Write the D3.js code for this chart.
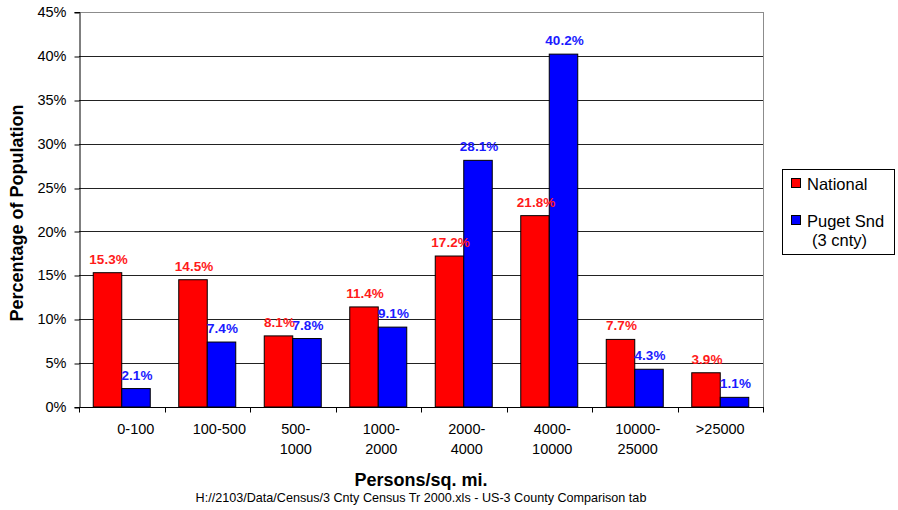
<!DOCTYPE html>
<html>
<head>
<meta charset="utf-8">
<script src="https://cdn.jsdelivr.net/npm/d3@7"></script>
<style>
  html, body { margin: 0; padding: 0; background: #fff; }
  svg { display: block; font-family: "Liberation Sans", Arial, sans-serif; }
</style>
</head>
<body>
<svg id="chart" width="898" height="510"></svg>
<script>
// Population density classes (persons per square mile); "|" marks a line break
const categories = ["\u00a0\u00a0\u00a0\u00a0\u00a0\u00a0\u00a00-100", "\u00a0\u00a0\u00a0\u00a0\u00a0\u00a0100-500", "500-|1000", "1000-|2000", "2000-|4000", "4000-|10000", "10000-|25000", ">25000"];
// Share of population in each class, percent
const nationalValues = [15.3, 14.5, 8.1, 11.4, 17.2, 21.8, 7.7, 3.9];
const pugetValues = [2.1, 7.4, 7.8, 9.1, 28.1, 40.2, 4.3, 1.1];
const seriesNames = ["National", "Puget Snd|(3 cnty)"];
const yTicks = [0, 5, 10, 15, 20, 25, 30, 35, 40, 45];

const seriesValues = [nationalValues, pugetValues];
const colors = ["#ff0000", "#0000ff"];
const labelColors = ["#ff1a1a", "#1a1aff"];

const svg = d3.select("#chart");
const plot = { left: 79, right: 763, top: 12, bottom: 407 };

const x0 = d3.scaleBand()
  .domain(categories)
  .range([plot.left, plot.right])
  .padding(0);

const x1 = d3.scaleBand()
  .domain([0, 1])
  .range([x0.bandwidth() / 6, x0.bandwidth() * 5 / 6])
  .padding(0);

const y = d3.scaleLinear()
  .domain([0, 45])
  .range([plot.bottom, plot.top]);

// Horizontal gridlines
svg.append("g")
  .selectAll("line")
  .data(yTicks.filter(t => t > 0))
  .join("line")
  .attr("x1", plot.left)
  .attr("x2", plot.right)
  .attr("y1", d => Math.round(y(d)) + 0.5)
  .attr("y2", d => Math.round(y(d)) + 0.5)
  .attr("stroke", d => d === 45 ? "#8c8c8c" : "#222")
  .attr("stroke-width", 1);

// Right border of plot area
svg.append("line")
  .attr("x1", plot.right + 0.5).attr("x2", plot.right + 0.5)
  .attr("y1", plot.top).attr("y2", plot.bottom)
  .attr("stroke", "#8c8c8c");

// Bars
const groups = svg.append("g")
  .selectAll("g")
  .data(categories.map((c, i) => ({ c, i })))
  .join("g")
  .attr("transform", d => `translate(${x0(d.c)},0)`);

groups.selectAll("rect")
  .data(d => seriesValues.map((vals, s) => ({ s, v: vals[d.i] })))
  .join("rect")
  .attr("x", d => x1(d.s))
  .attr("width", x1.bandwidth())
  .attr("y", d => y(d.v))
  .attr("height", d => y(0) - y(d.v))
  .attr("fill", d => colors[d.s])
  .attr("stroke", "#000")
  .attr("stroke-width", 1);

// Value labels
groups.selectAll("text")
  .data(d => seriesValues.map((vals, s) => ({ s, v: vals[d.i] })))
  .join("text")
  .attr("x", d => x1(d.s) + x1.bandwidth() / 2 + 1)
  .attr("y", d => y(d.v) - 9)
  .attr("text-anchor", "middle")
  .attr("font-size", "13.5px")
  .attr("font-weight", "bold")
  .attr("fill", d => labelColors[d.s])
  .text(d => d.v.toFixed(1) + "%");

// Y axis
const yAxis = svg.append("g")
  .attr("transform", `translate(${plot.left + 0.5},0)`)
  .call(d3.axisLeft(y).tickValues(yTicks).tickFormat(d => d + "%").tickSize(5).tickPadding(8));
yAxis.select(".domain").attr("stroke", "#000");
yAxis.selectAll(".tick line").attr("stroke", "#000")
  .attr("transform", d => `translate(0,${Math.round(y(d)) + 0.5 - y(d)})`);
yAxis.selectAll(".tick text")
  .attr("font-size", "14.5px")
  .attr("font-family", "Liberation Sans, Arial, sans-serif")
  .attr("fill", "#000");

// X axis: ticks sit at category boundaries
const xAxis = svg.append("g")
  .attr("transform", `translate(0,${plot.bottom + 0.5})`);
xAxis.append("line")
  .attr("x1", plot.left).attr("x2", plot.right + 1)
  .attr("stroke", "#000");
xAxis.selectAll("line.tick")
  .data(categories.map(c => x0(c)).concat([plot.right]))
  .join("line")
  .attr("class", "tick")
  .attr("x1", d => Math.round(d) + 0.5)
  .attr("x2", d => Math.round(d) + 0.5)
  .attr("y1", 0).attr("y2", 5)
  .attr("stroke", "#000");

const catLabels = xAxis.selectAll("text")
  .data(categories)
  .join("text")
  .attr("text-anchor", "middle")
  .attr("font-size", "14.5px")
  .attr("fill", "#000")
  .attr("transform", d => `translate(${x0(d) + x0.bandwidth() / 2 + (d.includes("|") ? 3 : 0)},0)`);
catLabels.selectAll("tspan")
  .data(d => d.split("|"))
  .join("tspan")
  .attr("x", 0)
  .attr("y", (d, i) => 26 + i * 20)
  .text(d => d);

// Axis titles
svg.append("text")
  .attr("transform", "translate(23,213) rotate(-90)")
  .attr("text-anchor", "middle")
  .attr("font-size", "18px")
  .attr("font-weight", "bold")
  .text("Percentage of Population");

svg.append("text")
  .attr("x", 421)
  .attr("y", 486)
  .attr("text-anchor", "middle")
  .attr("font-size", "18px")
  .attr("font-weight", "bold")
  .text("Persons/sq. mi.");

svg.append("text")
  .attr("x", 421)
  .attr("y", 502)
  .attr("text-anchor", "middle")
  .attr("font-size", "12.6px")
  .text("H://2103/Data/Census/3 Cnty Census Tr 2000.xls - US-3 County Comparison tab");

// Legend
const legend = svg.append("g");
legend.append("rect")
  .attr("x", 782.5).attr("y", 169.5)
  .attr("width", 112).attr("height", 85)
  .attr("fill", "#fff")
  .attr("stroke", "#000");

const legendItems = legend.selectAll("g.item")
  .data(seriesNames.map((n, i) => ({ n, i })))
  .join("g")
  .attr("class", "item")
  .attr("transform", d => `translate(0,${d.i * 37})`);
legendItems.append("rect")
  .attr("x", 791.5).attr("y", 178.5)
  .attr("width", 9).attr("height", 9)
  .attr("fill", d => colors[d.i])
  .attr("stroke", "#000");
const legendText = legendItems.append("text")
  .attr("font-size", "16.5px")
  .attr("fill", "#000");
legendText.selectAll("tspan")
  .data(d => d.n.split("|"))
  .join("tspan")
  .attr("x", (d, i) => i === 0 ? 807 : 812)
  .attr("y", (d, i) => 190 + i * 19)
  .text(d => d);
</script>
</body>
</html>
